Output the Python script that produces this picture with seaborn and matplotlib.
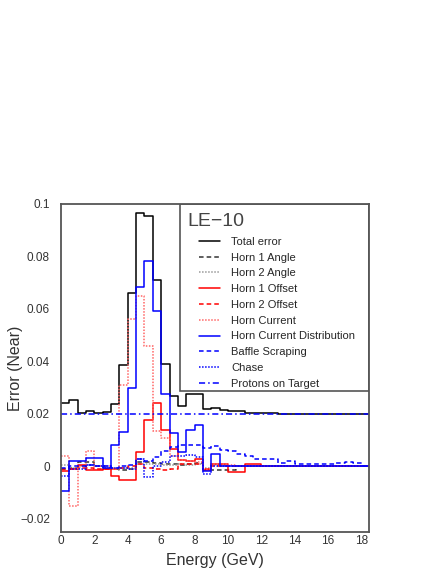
import numpy as np
import pandas as pd
import seaborn as sns
import matplotlib.pyplot as plt
from matplotlib.patches import Rectangle

sns.set_style("white")
plt.rcParams['font.family'] = ['Liberation Sans', 'DejaVu Sans']

# bin edges in GeV (0.5 GeV bins)
edges = np.arange(0, 18.51, 0.5)

total_error = [0.0240, 0.0254, 0.0204, 0.0210, 0.0204, 0.0207, 0.0238, 0.0387,
               0.0662, 0.0966, 0.0955, 0.0710, 0.0392, 0.0270, 0.0229, 0.0277,
               0.0277, 0.0218, 0.0222, 0.0215, 0.0210, 0.0210, 0.0205, 0.0205,
               0.0202, 0.0202, 0.0201, 0.0201, 0.0201, 0.0201, 0.0201, 0.0201,
               0.0201, 0.0201, 0.0201, 0.0201, 0.0201]
horn1_angle = [-0.0010, -0.0005, 0.0015, 0.0015, 0.0000, -0.0005, -0.0010, -0.0012,
               -0.0010, 0.0015, 0.0015, 0.0012, 0.0010, 0.0008, 0.0005, 0.0010,
               0.0012, -0.0012, -0.0012, -0.0015, -0.0015, 0.0000, 0.0000, 0.0000,
               0.0000, 0.0000, 0.0000, 0.0000, 0.0000, 0.0000, 0.0000, 0.0000,
               0.0000, 0.0000, 0.0000, 0.0000, 0.0000]
horn2_angle = [0.0005, -0.0005, 0.0000, 0.0005, 0.0000, -0.0005, -0.0005, -0.0008,
               -0.0005, 0.0010, 0.0010, 0.0008, 0.0005, 0.0005, 0.0008, 0.0005,
               0.0008, -0.0008, 0.0005, 0.0005, 0.0000, 0.0000, 0.0000, 0.0000,
               0.0000, 0.0000, 0.0000, 0.0000, 0.0000, 0.0000, 0.0000, 0.0000,
               0.0000, 0.0000, 0.0000, 0.0000, 0.0000]
horn1_offset = [-0.0018, -0.0010, 0.0006, -0.0013, -0.0013, -0.0010, -0.0038, -0.0052,
                -0.0053, 0.0054, 0.0177, 0.0240, 0.0137, 0.0067, 0.0023, 0.0020,
                0.0030, -0.0015, 0.0010, 0.0010, -0.0022, -0.0022, 0.0008, 0.0008,
                0.0000, 0.0000, 0.0000, 0.0000, 0.0000, 0.0000, 0.0000, 0.0000,
                0.0000, 0.0000, 0.0000, 0.0000, 0.0000]
horn2_offset = [-0.0010, -0.0010, -0.0005, -0.0005, -0.0010, -0.0010, -0.0010, -0.0005,
                0.0000, 0.0008, -0.0005, -0.0010, -0.0015, -0.0010, 0.0010, 0.0010,
                0.0010, -0.0010, 0.0000, 0.0000, 0.0000, 0.0000, 0.0000, 0.0000,
                0.0000, 0.0000, 0.0000, 0.0000, 0.0000, 0.0000, 0.0000, 0.0000,
                0.0000, 0.0000, 0.0000, 0.0000, 0.0000]
horn_current = [0.0040, -0.0150, -0.0003, 0.0060, 0.0000, 0.0000, -0.0010, 0.0310,
                0.0560, 0.0650, 0.0460, 0.0135, 0.0110, 0.0040, 0.0025, 0.0020,
                0.0015, -0.0010, 0.0010, 0.0010, 0.0005, 0.0000, 0.0000, 0.0000,
                0.0000, 0.0000, 0.0000, 0.0000, 0.0000, 0.0000, 0.0000, 0.0000,
                0.0000, 0.0000, 0.0000, 0.0000, 0.0000]
horn_current_dist = [-0.0095, 0.0020, 0.0020, 0.0033, 0.0033, -0.0005, 0.0080, 0.0130,
                     0.0300, 0.0683, 0.0784, 0.0593, 0.0277, 0.0126, 0.0054, 0.0139,
                     0.0156, -0.0018, 0.0048, 0.0000, 0.0000, 0.0000, 0.0000, 0.0000,
                     0.0000, 0.0000, 0.0000, 0.0000, 0.0000, 0.0000, 0.0000, 0.0000,
                     0.0000, 0.0000, 0.0000, 0.0000, 0.0000]
baffle_scraping = [-0.0005, 0.0000, 0.0000, 0.0005, 0.0000, 0.0000, -0.0005, 0.0000,
                   0.0005, 0.0030, 0.0020, 0.0035, 0.0060, 0.0075, 0.0083, 0.0083,
                   0.0083, 0.0070, 0.0076, 0.0063, 0.0057, 0.0048, 0.0038, 0.0029,
                   0.0027, 0.0027, 0.0014, 0.0019, 0.0010, 0.0010, 0.0010, 0.0010,
                   0.0010, 0.0014, 0.0016, 0.0013, 0.0000]
chase = [-0.0038, -0.0010, -0.0010, 0.0005, 0.0000, 0.0000, -0.0005, -0.0008,
         -0.0010, 0.0030, -0.0040, 0.0000, 0.0015, 0.0040, 0.0040, 0.0045,
         0.0035, -0.0028, 0.0000, 0.0000, 0.0000, 0.0000, 0.0000, 0.0000,
         0.0000, 0.0000, 0.0000, 0.0000, 0.0000, 0.0000, 0.0000, 0.0000,
         0.0000, 0.0000, 0.0000, 0.0000, 0.0000]
protons_on_target = [0.0200, 0.0200, 0.0200, 0.0200, 0.0200, 0.0200, 0.0200, 0.0200,
                     0.0200, 0.0200, 0.0200, 0.0200, 0.0200, 0.0200, 0.0200, 0.0200,
                     0.0200, 0.0200, 0.0200, 0.0200, 0.0200, 0.0200, 0.0200, 0.0200,
                     0.0200, 0.0200, 0.0200, 0.0200, 0.0200, 0.0200, 0.0200, 0.0200,
                     0.0200, 0.0200, 0.0200, 0.0200, 0.0200]

series = [
    ("Total error", total_error, "black", "-"),
    ("Horn 1 Angle", horn1_angle, "#333333", (0, (3, 2))),
    ("Horn 2 Angle", horn2_angle, "#999999", (0, (1, 1))),
    ("Horn 1 Offset", horn1_offset, "red", "-"),
    ("Horn 2 Offset", horn2_offset, "red", (0, (3, 2))),
    ("Horn Current", horn_current, "#ff6666", (0, (1, 1))),
    ("Horn Current Distribution", horn_current_dist, "blue", "-"),
    ("Baffle Scraping", baffle_scraping, "blue", (0, (3, 2))),
    ("Chase", chase, "blue", (0, (1, 1))),
    ("Protons on Target", protons_on_target, "blue", (0, (4, 2, 1, 2))),
]

rows = []
for name, vals, _, _ in series:
    ys = list(vals) + [vals[-1]]
    for e, v in zip(edges, ys):
        rows.append({"energy": e, "error": v, "source": name})
df = pd.DataFrame(rows)

fig = plt.figure(figsize=(4.43, 5.73), dpi=100)
ax = fig.add_axes([0.1377, 0.0716, 0.6953, 0.5724])

for name, _, col, ls in series:
    sub = df[df["source"] == name]
    sns.lineplot(data=sub, x="energy", y="error", color=col, linestyle=ls,
                 drawstyle="steps-post", estimator=None, sort=False,
                 linewidth=1.1, label=name, ax=ax)

ax.set_xlim(0, 18.45)
ax.set_ylim(-0.025, 0.1)

xticks = [0, 2, 4, 6, 8, 10, 12, 14, 16, 18]
yticks = [-0.02, 0, 0.02, 0.04, 0.06, 0.08, 0.1]
ylabels = ["\u22120.02", "0", "0.02", "0.04", "0.06", "0.08", "0.1"]
ax.set_xticks(xticks)
ax.set_xticklabels([str(t) for t in xticks])
ax.set_yticks(yticks)
ax.set_yticklabels(ylabels)
ax.set_xticks(np.arange(0, 18.5, 0.5), minor=True)
ax.set_yticks(np.arange(-0.025, 0.1001, 0.005), minor=True)
ax.tick_params(axis="both", which="both", direction="in", labelsize=8.5,
               color="#333333", labelcolor="#333333")
ax.tick_params(axis="x", which="major", length=7, pad=2)
ax.tick_params(axis="x", which="minor", length=3.5)
ax.tick_params(axis="y", which="major", length=7, pad=8)
ax.tick_params(axis="y", which="minor", length=3.5)

for sp in ax.spines.values():
    sp.set_color("#555555")
    sp.set_linewidth(1.3)

ax.set_xlabel("Energy (GeV)", fontsize=11.5, color="#333333")
ax.xaxis.set_label_coords(0.5, -0.064)
ax.set_ylabel("Error (Near)", fontsize=11.5, color="#333333")
ax.yaxis.set_label_coords(-0.123, 0.5)

# legend box (transparent, as in the ROOT canvas)
box = Rectangle((0.386, 0.43), 0.614, 0.57, transform=ax.transAxes,
                facecolor="none", edgecolor="#555555", linewidth=1.2, zorder=5)
ax.add_patch(box)
ax.text(0.41, 0.947, "LE\u221210", transform=ax.transAxes, fontsize=14,
        color="#444444", va="center", ha="left", zorder=6)
handles, labels = ax.get_legend_handles_labels()
leg = ax.legend(handles, labels, loc="upper left", bbox_to_anchor=(0.447, 0.90),
                frameon=False, fontsize=8, handlelength=1.9, handletextpad=1.0,
                labelspacing=0.52, borderaxespad=0, borderpad=0)
leg.set_zorder(7)

fig.savefig("out.png", dpi=100, facecolor="white")
